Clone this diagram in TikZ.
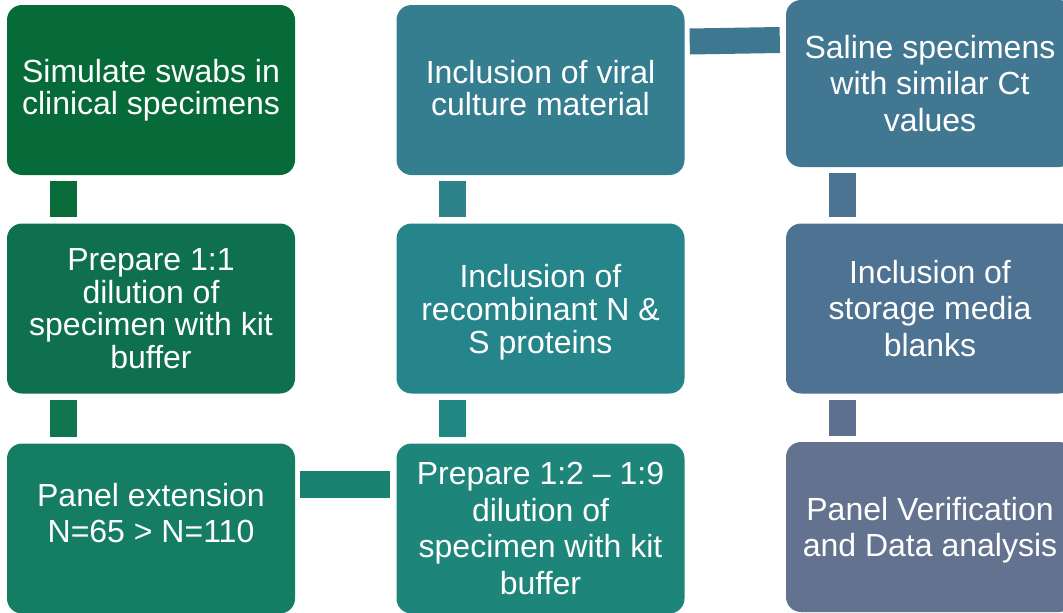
\documentclass[tikz,border=0pt]{standalone}
\usepackage{fontspec}
\setmainfont{Liberation Sans}
\usepackage{tikz}
\usetikzlibrary{positioning}
\definecolor{boxA}{HTML}{066B38}
\definecolor{boxB}{HTML}{0E704F}
\definecolor{boxC}{HTML}{157D63}
\definecolor{boxD}{HTML}{1E857A}
\definecolor{boxE}{HTML}{26858A}
\definecolor{boxF}{HTML}{347E8F}
\definecolor{boxG}{HTML}{427791}
\definecolor{boxH}{HTML}{4E7292}
\definecolor{boxI}{HTML}{63728F}
\definecolor{linkA}{HTML}{086B38}
\definecolor{linkB}{HTML}{107550}
\definecolor{linkC}{HTML}{19826F}
\definecolor{linkD}{HTML}{218783}
\definecolor{linkE}{HTML}{2E838B}
\definecolor{linkF}{HTML}{3E7790}
\definecolor{linkG}{HTML}{4C7391}
\definecolor{linkH}{HTML}{5D7090}

\begin{document}
\begin{tikzpicture}[x=1pt,y=-1pt,
  stepbox/.style={rectangle,rounded corners=15pt,minimum width=288pt,minimum height=170pt,
    inner sep=0pt,align=center,text=white,font=\fontsize{32}{35.5}\selectfont},
  link/.style={line width=27pt}]
\useasboundingbox (0,0) rectangle (1063,613);
\clip (0,0) rectangle (1063,613);
% left column, top to bottom
\node[stepbox,fill=boxA,font=\fontsize{32}{32.5}\selectfont] (simulate) at (151,90) {Simulate swabs in\\clinical specimens};
\node[stepbox,fill=boxB,font=\fontsize{32}{32.5}\selectfont] (dilute) at (151,308.5) {Prepare 1:1\\dilution of\\specimen with kit\\buffer};
\node[stepbox,fill=boxC,text depth=31pt] (extend) at (151,528.5) {Panel extension\\N=65 > N=110};
% middle column, bottom to top
\node[stepbox,fill=boxD,font=\fontsize{32}{36.7}\selectfont] (prepare) at (540.5,528.5) {Prepare 1:2 -- 1:9\\dilution of\\specimen with kit\\buffer};
\node[stepbox,fill=boxE,font=\fontsize{32}{33}\selectfont,text depth=-6pt] (recomb) at (540.5,308.5) {Inclusion of\\recombinant N \&\\S proteins};
\node[stepbox,fill=boxF,font=\fontsize{32}{32.5}\selectfont,text depth=4pt] (viral) at (540.5,90) {Inclusion of viral\\culture material};
% right column, top to bottom
\node[stepbox,fill=boxG,minimum height=167pt,font=\fontsize{32}{36.5}\selectfont] (saline) at (930,83.5) {Saline specimens\\with similar Ct\\values};
\node[stepbox,fill=boxH,font=\fontsize{32}{36.5}\selectfont] (storage) at (930,308.5) {Inclusion of\\storage media\\blanks};
\node[stepbox,fill=boxI,text depth=-24pt] (verify) at (930,527) {Panel Verification\\and Data analysis};
% vertical links
\foreach \a/\b/\c in {simulate/dilute/linkA,dilute/extend/linkB,viral/recomb/linkE,recomb/prepare/linkD,saline/storage/linkG,storage/verify/linkH}
  \draw[link,\c] ([xshift=56.5pt,yshift=-6pt]\a.south west) -- ([xshift=56.5pt,yshift=6pt]\b.north west);
% horizontal links
\draw[link,linkC] ([xshift=5pt,yshift=44pt]extend.east) -- ([xshift=-6pt,yshift=44pt]prepare.west);
\draw[link,linkF,line width=26pt] ([xshift=5pt,yshift=48.5pt]viral.east) -- ([xshift=-6pt,yshift=43.5pt]saline.west);
\end{tikzpicture}
\end{document}
